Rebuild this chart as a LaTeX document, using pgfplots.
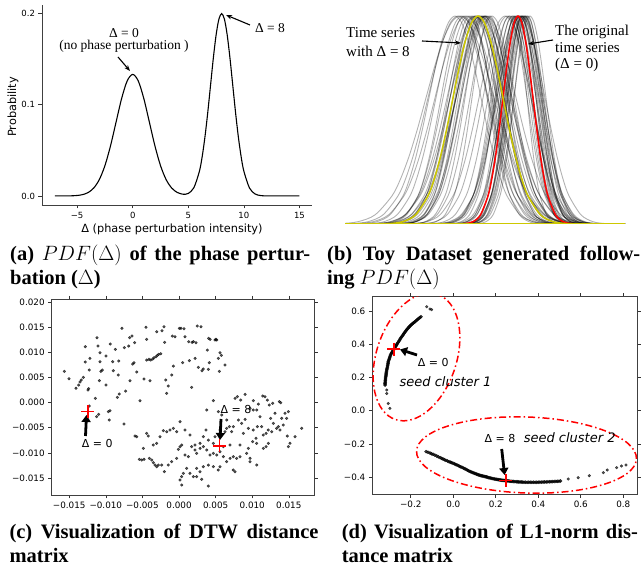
\documentclass[border=0pt]{standalone}
\usepackage{fontspec}
\setmainfont{Liberation Serif}
\newfontfamily\dejavu{DejaVu Sans}
\usepackage{pgfplots}
\pgfplotsset{compat=1.18}
\usepackage{pgfplotstable}
\usetikzlibrary{arrows.meta}
\definecolor{yel}{RGB}{205,200,0}

% standard bell shape used for each time series of panel (b)
\pgfplotstableread{
t g
-6 0
-5 0.0000037
-4 0.00034
-3.5 0.0022
-3 0.0111
-2.5 0.0439
-2 0.1353
-1.75 0.2163
-1.5 0.3247
-1.25 0.4578
-1 0.6065
-0.75 0.7548
-0.5 0.8825
-0.25 0.9692
0 1
0.25 0.9692
0.5 0.8825
0.75 0.7548
1 0.6065
1.25 0.4578
1.5 0.3247
1.75 0.2163
2 0.1353
2.5 0.0439
3 0.0111
3.5 0.0022
4 0.00034
5 0.0000037
6 0
}\shape
\pgfplotstableread{
t g
-4 0.00034
-3.5 0.0022
-3 0.0111
-2.5 0.0439
-2 0.1353
-1.75 0.2163
-1.5 0.3247
-1.25 0.4578
-1 0.6065
-0.75 0.7548
-0.5 0.8825
-0.25 0.9692
0 1
0.25 0.9692
0.5 0.8825
0.75 0.7548
1 0.6065
1.25 0.4578
1.5 0.3247
1.75 0.2163
2 0.1353
2.5 0.0439
3 0.0111
3.5 0.0022
4 0.00034
}\shapeB

\pgfplotsset{
  mpl/.style={scale only axis, enlargelimits=false, tick align=outside,
    scaled ticks=false,
    major tick length=3.5pt, tick style={black!80, line width=0.6pt},
    ticklabel style={font=\dejavu\fontsize{8.8}{10}\selectfont},
    /pgf/number format/assume math mode=true,
    axis line style={black!75, line width=0.6pt, -}},
  gc/.style={black, line width=0.9pt, opacity=0.3, smooth},
  pts/.style={only marks, mark=*, mark size=1.35pt, mark options={solid, fill=black, draw=none, opacity=0.65}},
  arcpts/.style={only marks, mark=*, mark size=1.6pt, mark options={solid, fill=black, draw=none, opacity=0.75}},
  redcross/.style={only marks, mark=+, color=red, mark size=6.5pt, line width=1.6pt, mark options={solid, red, draw=red, line width=1.6pt, opacity=1}},
}
\tikzset{thickarrow/.style={line width=2.8pt, -{Triangle[length=7pt,width=9pt]}}}

\begin{document}
\begin{tikzpicture}[x=1pt,y=1pt]
\useasboundingbox (0,0) rectangle (643,570);

% ---------------- (a) ----------------
\begin{axis}[mpl, at={(42pt,365pt)}, anchor=south west, width=269.7pt, height=200pt,
  xmin=-8.16, xmax=16.1, ymin=-0.0099, ymax=0.2089,
  axis x line*=bottom, axis y line*=left,
  ticklabel style={font=\dejavu\fontsize{8.5}{10}\selectfont},
  xtick={-5,0,5,10,15}, xticklabels={−5,0,5,10,15},
  ytick={0,0.1,0.2}, yticklabels={0.0,0.1,0.2}]
\addplot[black, line width=1.1pt, smooth] coordinates {
(-7,0) (-6.5,0.00001) (-6,0.000045) (-5.5,0.00016) (-5,0.00051) (-4.5,0.00148)
(-4,0.0038) (-3.5,0.00874) (-3,0.018) (-2.5,0.03317) (-2,0.05467) (-1.5,0.08066)
(-1,0.10648) (-0.5,0.12579) (0,0.13298) (0.5,0.12579) (1,0.10648) (1.5,0.08066)
(2,0.05467) (2.5,0.03317) (3,0.018) (3.5,0.00875) (4,0.00387) (4.5,0.00191)
(4.75,0.0019) (5,0.00273) (5.5,0.00893) (6,0.02704) (6.25,0.04317) (6.5,0.06477)
(6.75,0.09132) (7,0.12098) (7.25,0.15056) (7.5,0.17603) (7.75,0.19333) (8,0.19947)
(8.25,0.19333) (8.5,0.17603) (8.75,0.15056) (9,0.12098) (9.25,0.09132) (9.5,0.06476)
(9.75,0.04315) (10,0.027) (10.5,0.008765) (11,0.002216) (11.5,0.000436) (12,0.000067)
(12.5,0.000008) (13,0) (14,0) (15,0)};
\end{axis}
\node[rotate=90, font=\dejavu\fontsize{11.3}{13}\selectfont] at (13,463) {Probability};
\node[font=\dejavu\fontsize{11.3}{13}\selectfont] at (172,341) {Δ (phase perturbation intensity)};
\node[anchor=base, font=\fontsize{13.5}{15}\selectfont, inner sep=0] at (124,532) {Δ = 0};
\node[anchor=base, font=\fontsize{13.5}{15}\selectfont, inner sep=0] at (124,520) {(no phase perturbation )};
\node[anchor=base, font=\fontsize{13.5}{15}\selectfont, inner sep=0] at (270,537) {Δ = 8};
\draw[line width=1.1pt, -{Stealth[length=6pt,width=4.5pt]}] (118,513) -- (130,499);
\draw[line width=1.1pt, -{Stealth[length=6pt,width=4.5pt]}] (250,545) -- (226,555);

% ---------------- (b) ----------------
\begin{axis}[at={(345pt,346pt)}, anchor=south west, scale only axis, width=280pt, height=208pt,
  xmin=0, xmax=280, ymin=0, ymax=1, hide axis, clip=true]
% series around the original position
\addplot[gc] table[x expr=\thisrow{t}*15+173, y=g] {\shape};
\addplot[gc] table[x expr=\thisrow{t}*14+177, y=g] {\shape};
\addplot[gc] table[x expr=\thisrow{t}*16+170, y=g] {\shape};
\addplot[gc] table[x expr=\thisrow{t}*15+180, y=g] {\shape};
\addplot[gc] table[x expr=\thisrow{t}*18+175, y=g] {\shape};
\addplot[gc] table[x expr=\thisrow{t}*17+167, y=g] {\shape};
\addplot[gc] table[x expr=\thisrow{t}*14+183, y=g] {\shape};
\addplot[gc] table[x expr=\thisrow{t}*20+171, y=g] {\shape};
\addplot[gc] table[x expr=\thisrow{t}*22+165, y=g] {\shape};
\addplot[gc] table[x expr=\thisrow{t}*19+179, y=g] {\shape};
\addplot[gc] table[x expr=\thisrow{t}*22+174, y=g] {\shape};
\addplot[gc] table[x expr=\thisrow{t}*24+162, y=g] {\shape};
\addplot[gc] table[x expr=\thisrow{t}*17+182, y=g] {\shape};
\addplot[gc] table[x expr=\thisrow{t}*13+169, y=g] {\shape};
\addplot[gc] table[x expr=\thisrow{t}*24+176, y=g] {\shape};
\addplot[gc] table[x expr=\thisrow{t}*26+160, y=g] {\shape};
\addplot[gc] table[x expr=\thisrow{t}*16+185, y=g] {\shape};
\addplot[gc] table[x expr=\thisrow{t}*22+172, y=g] {\shape};
\addplot[gc] table[x expr=\thisrow{t}*20+178, y=g] {\shape};
\addplot[gc] table[x expr=\thisrow{t}*18+164, y=g] {\shape};
\addplot[gc] table[x expr=\thisrow{t}*15+176, y=g] {\shape};
\addplot[gc] table[x expr=\thisrow{t}*16+178, y=g] {\shape};
\addplot[gc] table[x expr=\thisrow{t}*14+174, y=g] {\shape};
\addplot[gc] table[x expr=\thisrow{t}*17+180, y=g] {\shape};
\addplot[gc] table[x expr=\thisrow{t}*15+177, y=g] {\shape};
\addplot[gc] table[x expr=\thisrow{t}*16+172, y=g] {\shape};
\addplot[gc] table[x expr=\thisrow{t}*15+181, y=g] {\shape};
\addplot[gc] table[x expr=\thisrow{t}*20+168, y=g] {\shape};
% series shifted by Delta = 8
\addplot[gc] table[x expr=\thisrow{t}*25+133, y=g] {\shape};
\addplot[gc] table[x expr=\thisrow{t}*22+125, y=g] {\shape};
\addplot[gc] table[x expr=\thisrow{t}*20+140, y=g] {\shape};
\addplot[gc] table[x expr=\thisrow{t}*26+117, y=g] {\shape};
\addplot[gc] table[x expr=\thisrow{t}*18+145, y=g] {\shape};
\addplot[gc] table[x expr=\thisrow{t}*28+130, y=g] {\shape};
\addplot[gc] table[x expr=\thisrow{t}*31+121, y=g] {\shape};
\addplot[gc] table[x expr=\thisrow{t}*26+137, y=g] {\shape};
\addplot[gc] table[x expr=\thisrow{t}*30+113, y=g] {\shape};
\addplot[gc] table[x expr=\thisrow{t}*24+143, y=g] {\shape};
\addplot[gc] table[x expr=\thisrow{t}*19+127, y=g] {\shape};
\addplot[gc] table[x expr=\thisrow{t}*30+135, y=g] {\shape};
\addplot[gc] table[x expr=\thisrow{t}*26+110, y=g] {\shape};
\addplot[gc] table[x expr=\thisrow{t}*22+147, y=g] {\shape};
\addplot[gc] table[x expr=\thisrow{t}*25+123, y=g] {\shape};
\addplot[gc] table[x expr=\thisrow{t}*28+139, y=g] {\shape};
\addplot[gc] table[x expr=\thisrow{t}*34+115, y=g] {\shape};
\addplot[gc] table[x expr=\thisrow{t}*21+131, y=g] {\shape};
\addplot[gc] table[x expr=\thisrow{t}*30+141, y=g] {\shape};
\addplot[gc] table[x expr=\thisrow{t}*23+119, y=g] {\shape};
\addplot[gc] table[x expr=\thisrow{t}*24+135, y=g] {\shape};
\addplot[gc] table[x expr=\thisrow{t}*22+137, y=g] {\shape};
\addplot[gc] table[x expr=\thisrow{t}*26+131, y=g] {\shape};
\addplot[gc] table[x expr=\thisrow{t}*23+139, y=g] {\shape};
\addplot[gc] table[x expr=\thisrow{t}*21+134, y=g] {\shape};
\addplot[gc] table[x expr=\thisrow{t}*24+129, y=g] {\shape};
\addplot[gc] table[x expr=\thisrow{t}*25+141, y=g] {\shape};
% highlighted series
\addplot[red, line width=1.5pt, smooth] table[x expr=\thisrow{t}*15+173, y=g] {\shapeB};
\addplot[yel, line width=1.5pt] coordinates {(0,0) (280,0)};
\addplot[yel, line width=1.5pt, smooth] table[x expr=\thisrow{t}*25+133, y=g] {\shape};
\end{axis}
\node[anchor=base west, font=\fontsize{15}{17}\selectfont, inner sep=0] at (346,532) {Time series};
\node[anchor=base west, font=\fontsize{15}{17}\selectfont, inner sep=0] at (346,513) {with Δ = 8};
\node[anchor=base west, font=\fontsize{15}{17}\selectfont, inner sep=0] at (555,534) {The original};
\node[anchor=base west, font=\fontsize{15}{17}\selectfont, inner sep=0] at (555,517) {time series};
\node[anchor=base west, font=\fontsize{15}{17}\selectfont, inner sep=0] at (555,501) {(Δ = 0)};
\draw[line width=1.1pt, -{Stealth[length=6pt,width=4.5pt]}] (422,529) -- (461,527);
\draw[line width=1.1pt, -{Stealth[length=6pt,width=4.5pt]}] (553,530) -- (528,526);

% ---------------- (c) ----------------
\draw[thickarrow] (85.5,134) -- (86.5,155);
\draw[thickarrow] (221,151) -- (220,130);
\begin{axis}[mpl, at={(51.7pt,75pt)}, anchor=south west, width=262.6pt, height=195.7pt,
  xmin=-0.01739, xmax=0.01848, ymin=-0.01839, ymax=0.0206,
  xtick={-0.015,-0.01,-0.005,0,0.005,0.01,0.015},
  xticklabels={−0.015,−0.010,−0.005,0.000,0.005,0.010,0.015},
  ytick={-0.015,-0.01,-0.005,0,0.005,0.01,0.015,0.02},
  yticklabels={−0.015,−0.010,−0.005,0.000,0.005,0.010,0.015,0.020}]
\addplot[pts] table {
x y
-0.01566 0.00624
-0.01503 0.00478
-0.01407 0.00286
-0.01371 0.00352
-0.01352 0.00412
-0.01334 0.00452
-0.01307 0.00505
-0.01280 0.00810
-0.01280 0.01116
-0.01243 0.00252
-0.01234 0.00279
-0.01225 0.00651
-0.01216 0.00883
-0.01143 0.00086
-0.01120 0.01295
-0.01107 0.01129
-0.01088 0.00438
-0.01079 0.00996
-0.01066 0.00624
-0.01047 0.00651
-0.01079 0.00817
-0.00997 0.00930
-0.00997 0.00352
-0.00938 0.01169
-0.00906 0.00817
-0.00897 0.00637
-0.00870 0.01062
-0.00842 0.00106
-0.00829 0.00551
-0.00815 0.00173
-0.00824 0.00830
-0.00779 0.01481
-0.00747 0.01096
-0.00729 0.00232
-0.00688 0.01129
-0.00674 0.01295
-0.00669 0.00438
-0.00642 0.01328
-0.00633 0.00770
-0.00606 0.01195
-0.00615 0.00797
-0.00578 0.00611
-0.00533 0.00040
-0.00478 0.00471
-0.00451 0.01501
-0.00442 0.01262
-0.00442 0.00850
-0.00410 0.00863
-0.00396 0.00438
-0.00387 0.00850
-0.00360 0.00870
-0.00342 0.00896
-0.00314 0.00916
-0.00296 0.00943
-0.00278 0.00963
-0.00250 0.00976
-0.00305 0.01414
-0.00232 0.01434
-0.00205 0.01514
-0.00196 0.01202
-0.00182 0.00452
-0.00168 0.00186
-0.00146 0.00332
-0.00100 0.00551
-0.00077 0.00730
-0.00091 0.01328
-0.00055 0.01315
0.00005 0.01481
0.00027 0.01481
0.00050 0.00797
0.00068 0.01474
0.00082 0.01315
0.00132 0.01215
0.00141 0.00837
0.00173 0.00305
0.00178 0.01202
0.00196 0.01215
0.00219 0.00883
0.00232 0.01195
0.00264 0.00704
-0.01225 -0.00066
-0.01125 -0.00278
-0.01097 -0.00232
-0.00965 -0.00179
-0.00943 -0.00159
-0.00952 -0.00345
-0.00751 -0.00424
0.00250 0.01527
0.00301 0.01514
0.00387 0.01049
0.00405 0.01282
0.00424 0.01262
0.00492 0.01248
0.00505 0.01262
0.00515 0.01248
0.00560 0.00996
0.00578 0.00943
0.00537 0.00883
0.00314 0.00637
0.00401 0.00664
0.00414 0.00797
0.00551 0.00624
0.00628 0.00750
0.00332 0.00671
0.00378 -0.00146
0.00469 0.00040
0.00537 -0.00179
0.00583 -0.00246
0.00651 -0.00345
0.00765 0.00086
0.00797 0.00120
0.00842 0.00053
0.00902 0.00166
0.00970 -0.00113
0.01015 -0.00146
0.01061 -0.00146
0.01015 0.00040
0.01084 -0.00027
0.01143 0.00133
0.01175 0.00120
0.01207 0.00053
0.01234 -0.00046
0.01280 -0.00013
0.01311 -0.00212
0.01371 0.00020
0.01389 0.00000
0.01448 -0.00212
0.01494 -0.00179
0.01471 -0.00312
0.01070 -0.00478
0.01129 -0.00478
0.01052 -0.00710
0.01152 -0.00644
0.01189 -0.00611
0.01220 -0.00544
0.01266 -0.00578
0.01289 -0.00412
0.01334 -0.00511
0.01357 -0.00478
0.01380 -0.00544
0.01425 -0.00445
0.01480 -0.00664
0.01585 -0.00677
0.01676 -0.00511
0.00811 -0.00345
0.00856 -0.00412
0.00902 -0.00332
0.00742 -0.00478
0.00688 -0.00478
0.00651 -0.00511
0.00628 -0.00578
0.00560 -0.00544
0.00492 -0.00677
0.00369 -0.00544
0.00287 -0.00810
0.00219 -0.00843
0.00150 -0.00644
0.00082 -0.00544
0.00014 -0.00378
-0.00032 -0.00578
-0.00077 -0.00511
-0.00123 -0.00544
-0.00168 -0.00578
-0.00214 -0.00558
-0.00260 -0.00677
-0.00305 -0.00810
-0.00351 -0.00843
-0.00419 -0.00664
-0.00442 -0.00611
-0.00578 -0.00677
-0.00601 -0.00664
-0.00487 -0.00910
-0.00542 -0.01129
-0.00510 -0.01142
-0.00478 -0.01129
-0.00405 -0.01109
-0.00373 -0.01142
-0.00351 -0.01195
-0.00328 -0.01242
-0.00305 -0.01275
-0.00282 -0.01242
-0.00237 -0.01242
-0.00200 -0.01375
-0.00146 -0.01242
-0.00100 -0.01175
-0.00032 -0.01109
-0.00009 -0.00930
0.00014 -0.00876
0.00036 -0.00843
0.00082 -0.01042
0.00128 -0.01076
0.00173 -0.00876
0.00219 -0.00943
0.00241 -0.01009
0.00287 -0.00910
0.00332 -0.00876
0.00378 -0.00943
0.00424 -0.01042
0.00469 -0.01009
0.00515 -0.01042
0.00560 -0.00976
0.00606 -0.01076
0.00651 -0.01175
0.00697 -0.01109
0.00742 -0.01076
0.00788 -0.01109
0.00833 -0.01076
0.00924 -0.01009
0.00970 -0.01109
0.01061 -0.01242
0.00742 -0.01341
0.00765 -0.01375
0.00560 -0.01275
0.00537 -0.01341
0.00469 -0.01275
0.00401 -0.01242
0.00332 -0.01275
0.00287 -0.01375
0.00241 -0.01308
0.00196 -0.01474
0.00150 -0.01408
0.00105 -0.01308
0.00059 -0.01408
0.00036 -0.01474
0.00014 -0.01541
0.00036 -0.01640
0.00241 -0.01474
0.00310 -0.01527
0.00401 -0.01660
0.00970 -0.01175
0.01152 -0.00910
0.01189 -0.00876
0.01220 -0.00810
0.01061 -0.00810
0.01006 -0.00777
0.00947 -0.00910
0.00833 -0.00843
0.00697 -0.00843
0.00606 -0.00876
0.00469 -0.00810
0.00401 -0.00744
0.00332 -0.00677
0.00560 -0.00677
0.00719 -0.00578
0.00879 -0.00611
0.00947 -0.00511
0.01015 -0.00544
0.01516 -0.00810
0.01494 -0.00876
0.01403 -0.00312
0.01107 -0.00279
0.01252 -0.00312
};
\addplot[redcross] coordinates {(-0.01247,-0.00179) (0.00551,-0.00857)};
\end{axis}
\node[font=\dejavu\fontsize{11}{13}\selectfont] at (97.3,126.7) {Δ = 0};
\node[font=\dejavu\fontsize{11}{13}\selectfont] at (236,161) {Δ = 8};

% ---------------- (d) ----------------
\draw[thickarrow] (417,215) -- (400,220.5);
\draw[thickarrow] (501.7,121) -- (504.6,95);
\begin{axis}[mpl, at={(372.3pt,75.7pt)}, anchor=south west, width=265pt, height=197.6pt,
  xmin=-0.381, xmax=0.866, ymin=-0.502, ymax=0.685,
  xtick={-0.2,0,0.2,0.4,0.6,0.8}, xticklabels={−0.2,0.0,0.2,0.4,0.6,0.8},
  ytick={-0.4,-0.2,0,0.2,0.4,0.6}, yticklabels={−0.4,−0.2,0.0,0.2,0.4,0.6}]
% sparse points
\addplot[pts] table {
x y
-0.125 0.625
-0.110 0.611
-0.102 0.607
-0.313 0.124
-0.313 0.104
-0.306 0.044
-0.298 0.014
0.541 -0.410
0.588 -0.402
0.640 -0.390
0.706 -0.372
0.725 -0.356
0.769 -0.342
0.792 -0.332
0.813 -0.326
};
% dense arcs
\addplot[arcpts] table {
x y
-0.321 0.154
-0.321 0.160
-0.321 0.165
-0.3205 0.171
-0.320 0.178
-0.3195 0.184
-0.319 0.190
-0.3185 0.197
-0.318 0.204
-0.317 0.210
-0.316 0.217
-0.3155 0.223
-0.315 0.230
-0.314 0.237
-0.313 0.244
-0.312 0.250
-0.311 0.256
-0.310 0.262
-0.309 0.269
-0.308 0.275
-0.307 0.282
-0.3065 0.288
-0.306 0.294
-0.304 0.301
-0.302 0.308
-0.3005 0.314
-0.299 0.321
-0.297 0.328
-0.295 0.335
-0.2925 0.341
-0.290 0.347
-0.2875 0.352
-0.285 0.358
-0.282 0.363
-0.279 0.369
-0.2765 0.375
-0.274 0.381
-0.271 0.387
-0.268 0.393
-0.2655 0.399
-0.263 0.405
-0.2595 0.411
-0.256 0.418
-0.253 0.424
-0.250 0.431
-0.2465 0.437
-0.243 0.444
-0.2395 0.450
-0.236 0.456
-0.233 0.462
-0.230 0.468
-0.2265 0.474
-0.223 0.480
-0.220 0.485
-0.217 0.490
-0.2135 0.495
-0.210 0.500
-0.207 0.504
-0.204 0.509
-0.200 0.513
-0.196 0.518
-0.192 0.522
-0.188 0.527
-0.184 0.531
-0.180 0.535
-0.1755 0.540
-0.171 0.545
-0.1665 0.550
-0.162 0.555
-0.157 0.560
-0.152 0.565
-0.128 -0.246
-0.119 -0.250
-0.110 -0.254
-0.1025 -0.258
-0.095 -0.262
-0.0865 -0.267
-0.078 -0.272
-0.070 -0.277
-0.062 -0.282
-0.055 -0.286
-0.048 -0.290
-0.0415 -0.294
-0.035 -0.298
-0.0275 -0.302
-0.020 -0.306
-0.014 -0.309
-0.008 -0.312
-0.0015 -0.3155
0.005 -0.319
0.0115 -0.3225
0.018 -0.326
0.024 -0.330
0.030 -0.334
0.036 -0.3375
0.042 -0.341
0.0485 -0.345
0.055 -0.349
0.0605 -0.353
0.066 -0.357
0.072 -0.3605
0.078 -0.364
0.083 -0.367
0.088 -0.370
0.093 -0.3725
0.098 -0.375
0.103 -0.3775
0.108 -0.380
0.113 -0.3825
0.118 -0.385
0.123 -0.387
0.128 -0.389
0.133 -0.3905
0.138 -0.392
0.143 -0.3935
0.148 -0.395
0.1525 -0.3965
0.157 -0.398
0.162 -0.400
0.167 -0.402
0.172 -0.4035
0.177 -0.405
0.182 -0.4065
0.187 -0.408
0.192 -0.4095
0.197 -0.411
0.202 -0.412
0.207 -0.413
0.212 -0.414
0.217 -0.415
0.222 -0.416
0.227 -0.417
0.232 -0.418
0.237 -0.419
0.242 -0.4195
0.247 -0.420
0.252 -0.421
0.257 -0.422
0.262 -0.4225
0.267 -0.423
0.272 -0.424
0.277 -0.425
0.2835 -0.4255
0.290 -0.426
0.296 -0.4265
0.302 -0.427
0.308 -0.4275
0.314 -0.428
0.320 -0.4285
0.326 -0.429
0.333 -0.4295
0.340 -0.430
0.3475 -0.430
0.355 -0.430
0.3625 -0.430
0.370 -0.430
0.3775 -0.430
0.385 -0.430
0.3925 -0.430
0.400 -0.430
0.4075 -0.4295
0.415 -0.429
0.4225 -0.4285
0.430 -0.428
0.4375 -0.4275
0.445 -0.427
0.4525 -0.4265
0.460 -0.426
0.4675 -0.4255
0.475 -0.425
0.4825 -0.4245
0.490 -0.424
0.4975 -0.423
0.505 -0.422
};
\addplot[redcross] coordinates {(-0.279,0.369) (0.247,-0.420)};
\end{axis}
\begin{scope}
\clip (372.3,75.7) rectangle (637.3,273.3);
\draw[red, line width=1.5pt, dash pattern=on 7pt off 3pt on 1.5pt off 3pt, rotate around={71.4:(416.5,213)}] (416.5,213) ellipse [x radius=66pt, y radius=40pt];
\draw[red, line width=1.5pt, dash pattern=on 7pt off 3pt on 1.5pt off 3pt, rotate around={-2:(526.5,115)}] (526.5,115) ellipse [x radius=110pt, y radius=38pt];
\end{scope}
\node[font=\dejavu\fontsize{11}{13}\selectfont] at (433.3,207.3) {Δ = 0};
\node[font=\dejavu\itshape\fontsize{13}{15}\selectfont] at (445.5,188.3) {seed cluster 1};
\node[font=\dejavu\fontsize{11}{13}\selectfont] at (500,131.7) {Δ = 8};
\node[font=\dejavu\itshape\fontsize{13}{15}\selectfont] at (569.7,132) {seed cluster 2};

% ---------------- captions ----------------
\begin{scope}[every node/.style={anchor=base west, inner sep=0, font=\bfseries\fontsize{20.5}{24}\selectfont}]
\node at (10,309) {\makebox[300pt][s]{(a) $PDF(\Delta)$ of the phase pertur-}};
\node at (10,285) {bation ($\Delta$)};
\node at (327,309) {\makebox[313pt][s]{(b) Toy Dataset generated follow-}};
\node at (327,285) {ing $PDF(\Delta)$};
\node at (9.3,31) {\makebox[309pt][s]{(c) Visualization of DTW distance}};
\node at (9.3,7) {matrix};
\node at (341.7,31) {\makebox[296pt][s]{(d) Visualization of L1-norm dis-}};
\node at (341.7,7) {tance matrix};
\end{scope}
\end{tikzpicture}
\end{document}
